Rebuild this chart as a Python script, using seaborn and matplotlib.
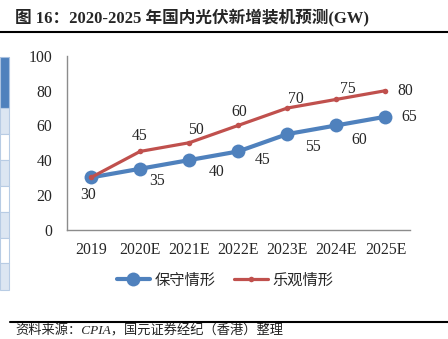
import matplotlib
matplotlib.use("Agg")
import matplotlib.pyplot as plt
import seaborn as sns
import pandas as pd
from matplotlib.patches import Rectangle
from matplotlib.lines import Line2D

# ---- data ----
years = ["2019", "2020E", "2021E", "2022E", "2023E", "2024E", "2025E"]
conservative = [30, 35, 40, 45, 55, 60, 65]
optimistic = [30, 45, 50, 60, 70, 75, 80]
series_names = ["保守情形", "乐观情形"]
yticks = [0, 20, 40, 60, 80, 100]
title = "图 16：2020-2025 年国内光伏新增装机预测(GW)"
source = "资料来源：CPIA，国元证券经纪（香港）整理"

# label offsets in pixels (dx right, dy down)
cons_off = [(-3, 18), (17, 12), (27, 12), (24, 9), (26, 13), (23, 15), (24, 0)]
opt_off = [None, (0, -15), (7, -13), (1, -13), (9, -9), (11, -10), (20, 0)]

BLUE = "#4f81bd"
RED = "#c0504d"
W, H = 448, 339

sns.set_style("white")
plt.rcParams['font.family'] = ['Liberation Serif', 'Noto Sans CJK SC', 'DejaVu Sans']

df_c = pd.DataFrame({"year": years, "value": conservative})
df_o = pd.DataFrame({"year": years, "value": optimistic})

fig = plt.figure(figsize=(W / 100, H / 100), dpi=100)
ax = fig.add_axes([66.5 / W, 1 - 229.5 / H, (410 - 66.5) / W, (229.5 - 56) / H])

sns.lineplot(data=df_c, x="year", y="value", ax=ax, color=BLUE, lw=3,
             marker="o", markersize=10, markeredgewidth=0, label=series_names[0],
             legend=False)
sns.lineplot(data=df_o, x="year", y="value", ax=ax, color=RED, lw=2.3,
             marker="o", markersize=4, markeredgewidth=0, label=series_names[1],
             legend=False)

ax.set_xlim(-0.5, len(years) - 0.5)
ax.set_ylim(0, 100)
ax.set_yticks(yticks)
ax.set_xlabel("")
ax.set_ylabel("")
ax.grid(False)

for s in ["top", "right"]:
    ax.spines[s].set_visible(False)
for s in ["left", "bottom"]:
    ax.spines[s].set_color("#8c8c8c")
    ax.spines[s].set_linewidth(1)

ax.tick_params(axis="y", which="major", direction="out", length=3, width=1,
               color="#8c8c8c", pad=7, labelsize=11.3)
ax.tick_params(axis="x", which="major", length=0, pad=9, labelsize=11.3)
ax.set_xticks([i - 0.5 for i in range(len(years) + 1)], minor=True)
ax.tick_params(axis="x", which="minor", direction="out", length=3, width=1,
               color="#8c8c8c")

for i, v in enumerate(conservative):
    dx, dy = cons_off[i]
    ax.annotate(str(v), (i, v), xytext=(dx * 0.72, -dy * 0.72),
                textcoords="offset points", ha="center", va="center", fontsize=11.3)
for i, v in enumerate(optimistic):
    if opt_off[i] is None:
        continue
    dx, dy = opt_off[i]
    ax.annotate(str(v), (i, v), xytext=(dx * 0.72, -dy * 0.72),
                textcoords="offset points", ha="center", va="center", fontsize=11.3)

handles, labels = ax.get_legend_handles_labels()
fig.legend(handles, labels, loc="center", bbox_to_anchor=(225 / W, 1 - 280 / H),
           ncol=2, frameon=False, prop={"family": ["Noto Sans CJK SC"], "size": 11},
           handlelength=2.2, handletextpad=0.3, columnspacing=1.2)

# title and rules
fig.text(15 / W, 1 - 17 / H, title, fontsize=12, fontweight="bold", va="center",
         ha="left")
fig.add_artist(Line2D([0, 1], [1 - 31.5 / H] * 2, color="black", lw=1.5,
                      transform=fig.transFigure))
fig.add_artist(Line2D([10 / W, 1], [1 - 322 / H] * 2, color="black", lw=1.5,
                      transform=fig.transFigure))
fig.text(15 / W, 1 - 331 / H, source, fontsize=9.5, style="italic", va="center",
         ha="left", color="#222222")

# left-edge table strip
fig.add_artist(Rectangle((0, 1 - 108 / H), 9.3 / W, (108 - 57) / H,
                         transform=fig.transFigure, facecolor=BLUE,
                         edgecolor="#a9c1e0", lw=0.8))
bounds = [108, 134, 160, 186, 212, 238, 263, 290]
for k in range(len(bounds) - 1):
    top, bot = bounds[k], bounds[k + 1]
    fc = "#dce6f2" if k % 2 == 0 else "white"
    fig.add_artist(Rectangle((0, 1 - bot / H), 9.3 / W, (bot - top) / H,
                             transform=fig.transFigure, facecolor=fc,
                             edgecolor="#b8cce4", lw=0.8))

fig.savefig("out.png", dpi=100)
